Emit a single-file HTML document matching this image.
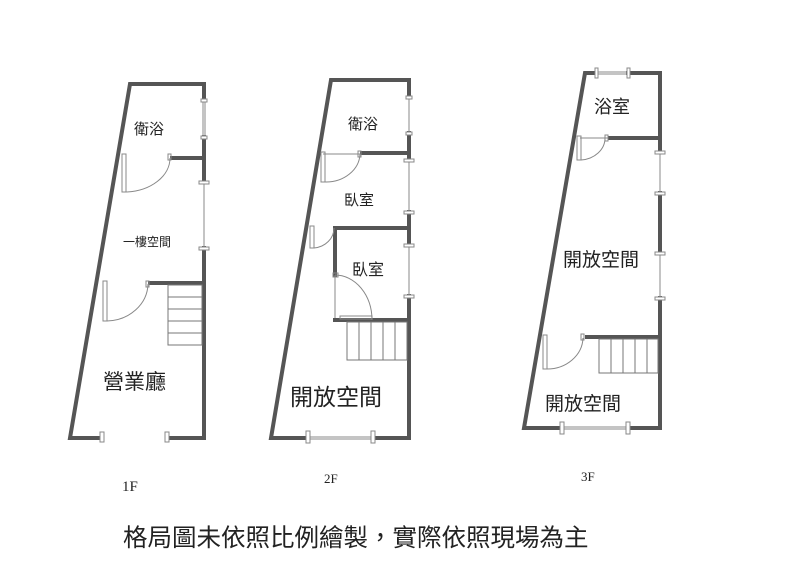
<!DOCTYPE html>
<html><head><meta charset="utf-8"><style>
html,body{margin:0;padding:0;background:#fff;}
svg{display:block;}
text{font-family:"Liberation Sans","Noto Sans CJK TC",sans-serif;fill:#222;}
.s{font-family:"Liberation Serif",serif;}
</style></head><body>
<svg width="800" height="577" viewBox="0 0 800 577">
<g fill="none" stroke="#555" stroke-width="4" stroke-linecap="square">
<polyline points="204,100 204,84 130,84 70,438 102,438"/>
<polyline points="167,438 204,438 204,248"/>
<line x1="204" y1="137" x2="204" y2="182"/>
<line x1="172" y1="158" x2="204" y2="158"/>
<line x1="150" y1="283" x2="204" y2="283"/>
<polyline points="409,97 409,80 331,80 271,438 308,438"/>
<polyline points="373,438 409,438 409,296"/>
<line x1="409" y1="133" x2="409" y2="160"/>
<line x1="409" y1="212" x2="409" y2="245"/>
<line x1="362" y1="153" x2="409" y2="153"/>
<polyline points="409,228 335,228 335,275"/>
<line x1="335" y1="320" x2="409" y2="320"/>
<polyline points="596,73 585,73 524,428 562,428"/>
<polyline points="628,73 660,73 660,152"/>
<line x1="610" y1="138" x2="660" y2="138"/>
<line x1="660" y1="193" x2="660" y2="253"/>
<polyline points="660,298 660,428 628,428"/>
<line x1="587" y1="337" x2="660" y2="337"/>
</g>
<g fill="none" stroke="#888" stroke-width="1">
<line x1="203" y1="100" x2="203" y2="137"/><line x1="205" y1="100" x2="205" y2="137"/>
<line x1="204" y1="182" x2="204" y2="248"/>
<line x1="409" y1="97" x2="409" y2="133"/><line x1="409" y1="160" x2="409" y2="212"/><line x1="409" y1="245" x2="409" y2="296"/>
<line x1="308" y1="437" x2="373" y2="437"/><line x1="308" y1="439" x2="373" y2="439"/>
<line x1="596" y1="72" x2="628" y2="72"/><line x1="596" y1="74" x2="628" y2="74"/>
<line x1="660" y1="152" x2="660" y2="193"/><line x1="660" y1="253" x2="660" y2="298"/>
<line x1="562" y1="427" x2="628" y2="427"/><line x1="562" y1="429" x2="628" y2="429"/>
<rect x="201" y="99" width="6" height="3" fill="#fff"/><rect x="201" y="136" width="6" height="3" fill="#fff"/>
<rect x="199" y="181" width="10" height="3" fill="#fff"/><rect x="199" y="247" width="10" height="3" fill="#fff"/>
<rect x="100" y="432" width="4" height="10" fill="#fff"/><rect x="165" y="432" width="4" height="10" fill="#fff"/>
<rect x="406" y="96" width="6" height="3" fill="#fff"/><rect x="406" y="132" width="6" height="3" fill="#fff"/>
<rect x="404" y="159" width="10" height="3" fill="#fff"/><rect x="404" y="211" width="10" height="3" fill="#fff"/>
<rect x="404" y="244" width="10" height="3" fill="#fff"/><rect x="404" y="295" width="10" height="3" fill="#fff"/>
<rect x="306" y="431" width="4" height="12" fill="#fff"/><rect x="371" y="431" width="4" height="12" fill="#fff"/>
<rect x="595" y="68" width="3" height="10" fill="#fff"/><rect x="627" y="68" width="3" height="10" fill="#fff"/>
<rect x="655" y="151" width="10" height="3" fill="#fff"/><rect x="655" y="192" width="10" height="3" fill="#fff"/>
<rect x="655" y="252" width="10" height="3" fill="#fff"/><rect x="655" y="297" width="10" height="3" fill="#fff"/>
<rect x="560" y="422" width="4" height="12" fill="#fff"/><rect x="626" y="422" width="4" height="12" fill="#fff"/>
<rect x="122" y="154" width="4" height="38"/><rect x="168" y="154" width="3" height="6"/>
<path d="M126,192 A46,34 0 0 0 170,158"/>
<rect x="103" y="281" width="4" height="40"/><rect x="146" y="281" width="3" height="6"/>
<path d="M107,321 A42,38 0 0 0 148,284"/>
<rect x="321" y="152" width="4" height="30"/><path d="M325,182 A34,29 0 0 0 360,154"/>
<line x1="323" y1="154" x2="360" y2="154"/><rect x="358" y="151" width="3" height="6"/>
<rect x="310" y="226" width="4" height="22"/><path d="M314,248 A22,20 0 0 0 334,228"/>
<rect x="333" y="273" width="5" height="4"/><line x1="335" y1="275" x2="335" y2="318"/>
<path d="M335,275 A37,45 0 0 1 372,320"/><rect x="340" y="316" width="32" height="3"/>
<rect x="577" y="136" width="4" height="24"/><path d="M581,160 A26,22 0 0 0 605,138"/>
<line x1="580" y1="138" x2="608" y2="138"/><rect x="605" y="135" width="3" height="6"/>
<rect x="543" y="335" width="4" height="34"/><path d="M547,369 A36,32 0 0 0 583,338"/><rect x="581" y="334" width="3" height="6"/>
</g>
<g fill="none" stroke="#777" stroke-width="1">
<rect x="168" y="285" width="34" height="60"/>
<line x1="168" y1="297" x2="202" y2="297"/><line x1="168" y1="309" x2="202" y2="309"/><line x1="168" y1="321" x2="202" y2="321"/><line x1="168" y1="333" x2="202" y2="333"/>
<rect x="347" y="322" width="60" height="38"/>
<line x1="359" y1="322" x2="359" y2="360"/><line x1="371" y1="322" x2="371" y2="360"/><line x1="383" y1="322" x2="383" y2="360"/><line x1="395" y1="322" x2="395" y2="360"/>
<rect x="599" y="339" width="59" height="34"/>
<line x1="611" y1="339" x2="611" y2="373"/><line x1="623" y1="339" x2="623" y2="373"/><line x1="635" y1="339" x2="635" y2="373"/><line x1="647" y1="339" x2="647" y2="373"/>
</g>
<text x="134" y="134" font-size="15">衛浴</text>
<text x="123" y="246" font-size="12">一樓空間</text>
<text x="103" y="389" font-size="21">營業廳</text>
<text x="348" y="129" font-size="15">衛浴</text>
<text x="344" y="205" font-size="15">臥室</text>
<text x="352" y="275" font-size="16">臥室</text>
<text x="290" y="405" font-size="23">開放空間</text>
<text x="594" y="113" font-size="18">浴室</text>
<text x="563" y="266" font-size="19">開放空間</text>
<text x="545" y="410" font-size="19">開放空間</text>
<text class="s" x="122" y="491" font-size="15">1F</text>
<text class="s" x="324" y="483" font-size="13">2F</text>
<text class="s" x="581" y="481" font-size="13">3F</text>
<text x="123" y="546" font-size="24.5">格局圖未依照比例繪製，實際依照現場為主</text>
</svg>
</body></html>
